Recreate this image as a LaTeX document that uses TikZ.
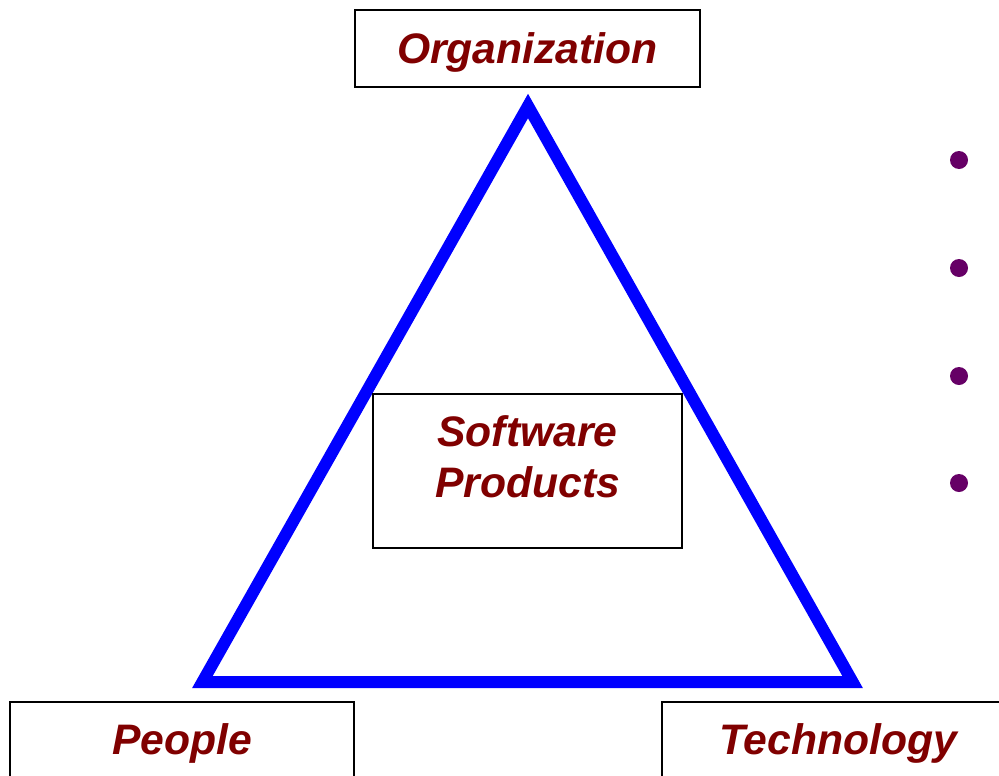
\documentclass[tikz,border=0pt]{standalone}
\usepackage{fontspec}
\setmainfont{Liberation Sans}
\usepackage{xcolor}
\definecolor{maroon}{HTML}{800000}
\definecolor{plum}{HTML}{660066}

\tikzset{
	labelbox/.style={draw=black,line width=1.5pt,fill=white,inner sep=0pt,
		text=maroon,font=\fontsize{32}{38.25}\selectfont\bfseries\itshape,
		text height=22pt,text depth=0pt}
}

\begin{document}
\begin{tikzpicture}[x=0.75pt,y=-0.75pt]
	\useasboundingbox (0,0) rectangle (999,775);
	\clip (0,0) rectangle (999,775);
	% the triangle
	\coordinate (apex) at (528,106);
	\coordinate (left) at (202.4,682);
	\coordinate (right) at (852.6,682);
	\draw[blue,line width=9pt] (apex)--(left)--(right)--cycle;
	% corner boxes
	\node[labelbox,minimum width=345*0.75pt,minimum height=77*0.75pt] (org) at (527.5,48.5) {Organization};
	\foreach \n/\x/\w/\t in {
			people/182/344/People,
			tech/838/352/Technology}
		{
		\node[labelbox,minimum width=\w*0.75pt,minimum height=76*0.75pt] (\n) at (\x,740) {\t};
	};
	% centre box
	\node[labelbox,align=center,minimum width=309*0.75pt,minimum height=154*0.75pt,
		text height=60pt,text depth=21pt] (soft) at (527.5,471) {Software\\Products};
	% bullets
	\foreach \i/\y in {1/160,2/268,3/376,4/483}
		\fill[plum] (959,\y) circle[radius=9*0.75pt] coordinate (dot\i);
\end{tikzpicture}
\end{document}
